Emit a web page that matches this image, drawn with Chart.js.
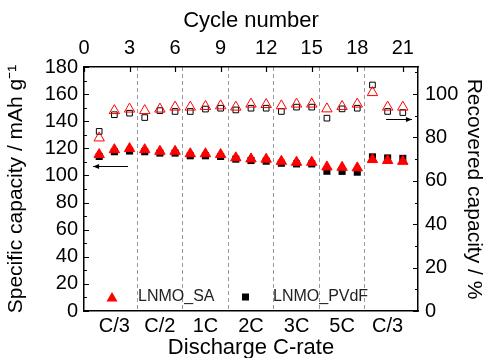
<!DOCTYPE html>
<html>
<head>
<meta charset="utf-8">
<script src="https://cdn.jsdelivr.net/npm/chart.js@4.4.1/dist/chart.umd.min.js"></script>
<style>
  body { margin: 0; background: #fff; }
  canvas { display: block; }
</style>
</head>
<body>
<canvas id="myChart" width="488" height="358"></canvas>
<script>
// Data
// =======================================================
var cycles = [1, 2, 3, 4, 5, 6, 7, 8, 9, 10, 11, 12, 13, 14, 15, 16, 17, 18, 19, 20, 21];

var saCapacity = [115.4, 119, 119.8, 119, 117.8, 117.8, 116, 116, 115.4, 113, 112.2, 112, 110.4, 109.7, 109.7, 106.3, 106, 105.6, 111.7, 111, 110.4];
var pvdfCapacity = [114, 117.5, 118, 117.5, 116.5, 116.5, 114.5, 114.5, 114, 112, 111, 110.5, 109, 108.5, 108.5, 103.1, 103, 102.4, 113.7, 112.9, 112.6];

var saRecovered = [79.8, 92.4, 93.1, 92.4, 93.1, 94, 94, 94.3, 94.6, 94, 95.4, 95.2, 94.6, 95.4, 95.4, 93.2, 94.3, 95.4, 100.7, 94, 94];
var pvdfRecovered = [82.8, 90.5, 91.2, 89.2, 92.4, 92, 92, 93.1, 93.5, 92.7, 93.5, 93.5, 92, 94, 94, 88.9, 93.2, 93.5, 104.2, 92, 91.5];

var rateLabels = ["C/3", "C/2", "1C", "2C", "3C", "5C", "C/3"];
var ratePositions = [2, 5, 8, 11, 14, 17, 20];
var rateSeparators = [3.5, 6.5, 9.5, 12.5, 15.5, 18.5];
var cycleTicks = [0, 3, 6, 9, 12, 15, 18, 21];
var capacityTicks = [0, 20, 40, 60, 80, 100, 120, 140, 160, 180];
var recoveredTicks = [0, 20, 40, 60, 80, 100];

// arrows: [fromCycle, toCycle, value]
var leftArrow = [2.9, 0.6, 107];
var rightArrow = [19.9, 21.6, 88.5];

function points(ys) {
    return cycles.map(function (c, i) { return { x: c, y: ys[i] }; });
}

var FONT = "'Liberation Sans', Arial, sans-serif";

// Inward tick marks, legend and arrows
// =======================================================
var extras = {
    id: "extras",
    afterDatasetsDraw: function (chart) {
        var ctx = chart.ctx;
        var area = chart.chartArea;
        var sy = chart.scales.y, sy2 = chart.scales.y2, st = chart.scales.xTop;
        ctx.save();
        ctx.strokeStyle = "#000";
        ctx.lineWidth = 1.2;
        ctx.beginPath();
        for (var v = 0; v <= 180; v += 10) {
            var p = Math.round(sy.getPixelForValue(v)) + 0.5;
            var len = v % 20 === 0 ? 5 : 3;
            ctx.moveTo(area.left, p); ctx.lineTo(area.left + len, p);
        }
        for (var w = 0; w <= 110; w += 10) {
            var q = Math.round(sy2.getPixelForValue(w)) + 0.5;
            var len2 = w % 20 === 0 ? 5 : 3;
            ctx.moveTo(area.right, q); ctx.lineTo(area.right - len2, q);
        }
        cycleTicks.forEach(function (c) {
            var x = Math.round(st.getPixelForValue(c)) + 0.5;
            ctx.moveTo(x, area.top); ctx.lineTo(x, area.top + 5);
        });
        ctx.stroke();

        // arrows
        function arrow(a, scaleY) {
            var x1 = st.getPixelForValue(a[0]);
            var x2 = st.getPixelForValue(a[1]);
            var y = Math.round(scaleY.getPixelForValue(a[2])) + 0.5;
            var dir = x2 > x1 ? 1 : -1;
            ctx.lineWidth = 1;
            ctx.beginPath();
            ctx.moveTo(x1, y); ctx.lineTo(x2, y);
            ctx.stroke();
            ctx.beginPath();
            ctx.moveTo(x2, y);
            ctx.lineTo(x2 - dir * 6, y - 2.5);
            ctx.lineTo(x2 - dir * 6, y + 2.5);
            ctx.closePath();
            ctx.fillStyle = "#000";
            ctx.fill();
        }
        arrow(leftArrow, sy);
        arrow(rightArrow, sy2);

        // legend inside the plot
        var ly = area.bottom - 14;
        ctx.fillStyle = "#ff0000";
        ctx.beginPath();
        var tx = area.left + 28;
        ctx.moveTo(tx, ly - 5); ctx.lineTo(tx + 5.5, ly + 4.5); ctx.lineTo(tx - 5.5, ly + 4.5);
        ctx.closePath();
        ctx.fill();
        ctx.fillStyle = "#000";
        ctx.fillRect(area.left + 158, ly - 3.5, 7, 7);
        ctx.font = "16px " + FONT;
        ctx.textBaseline = "middle";
        ctx.fillStyle = "#222";
        ctx.fillText(chart.data.datasets[0].label, area.left + 54, ly);
        ctx.fillText(chart.data.datasets[1].label, area.left + 189, ly);
        ctx.restore();
    }
};

var ctx = document.getElementById("myChart");

var myChart = new Chart(ctx, {
    type: "scatter",
    data: {
        datasets: [{
            label: "LNMO_SA",
            data: points(saCapacity),
            xAxisID: "xTop",
            yAxisID: "y",
            pointStyle: "triangle",
            pointRadius: 6,
            backgroundColor: "#ff0000",
            borderColor: "#ff0000",
            borderWidth: 1,
            order: 1
        }, {
            label: "LNMO_PVdF",
            data: points(pvdfCapacity),
            xAxisID: "xTop",
            yAxisID: "y",
            pointStyle: "rect",
            pointRadius: 5,
            backgroundColor: "#000",
            borderColor: "#000",
            borderWidth: 0,
            order: 2
        }, {
            label: "LNMO_SA recovered",
            data: points(saRecovered),
            xAxisID: "xTop",
            yAxisID: "y2",
            pointStyle: "triangle",
            pointRadius: 6,
            backgroundColor: "rgba(255,255,255,0)",
            borderColor: "#ff0000",
            borderWidth: 1,
            order: 3
        }, {
            label: "LNMO_PVdF recovered",
            data: points(pvdfRecovered),
            xAxisID: "xTop",
            yAxisID: "y2",
            pointStyle: "rect",
            pointRadius: 4,
            backgroundColor: "rgba(255,255,255,0)",
            borderColor: "#000",
            borderWidth: 1,
            order: 4
        }]
    },
    options: {
        responsive: false,
        animation: false,
        layout: { padding: 0 },
        plugins: {
            legend: { display: false },
            tooltip: { enabled: false }
        },
        scales: {
            x: {
                type: "linear",
                position: "bottom",
                min: 0,
                max: 22,
                afterBuildTicks: function (s) { s.ticks = ratePositions.map(function (v) { return { value: v }; }); },
                afterFit: function (s) { s.height = 47; },
                ticks: {
                    autoSkip: false,
                    maxRotation: 0,
                    padding: 3,
                    color: "#000",
                    font: { family: FONT, size: 20 }
                    ,
                    callback: function (v) { return rateLabels[ratePositions.indexOf(v)]; }
                },
                grid: { display: false, drawTicks: false },
                border: { color: "#000", width: 1.5 },
                title: {
                    display: true,
                    text: "Discharge C-rate",
                    color: "#000",
                    padding: { top: 0, bottom: -3 },
                    font: { family: FONT, size: 22 }
                }
            },
            xg: {
                type: "linear",
                position: "bottom",
                min: 0,
                max: 22,
                afterBuildTicks: function (s) { s.ticks = rateSeparators.map(function (v) { return { value: v }; }); },
                afterFit: function (s) { s.height = 0; },
                ticks: { display: false },
                grid: { drawTicks: false, color: "#999", lineWidth: 1 },
                border: { display: false, dash: [4, 3] }
            },
            xTop: {
                type: "linear",
                position: "top",
                min: 0,
                max: 22,
                afterBuildTicks: function (s) { s.ticks = cycleTicks.map(function (v) { return { value: v }; }); },
                afterFit: function (s) { s.height = 67; },
                ticks: {
                    autoSkip: false,
                    maxRotation: 0,
                    padding: 7,
                    color: "#000",
                    font: { family: FONT, size: 20 }
                },
                grid: { display: false, drawTicks: false },
                border: { color: "#000", width: 1.5 },
                title: {
                    display: true,
                    text: "Cycle number",
                    color: "#000",
                    padding: { top: 8, bottom: 0 },
                    font: { family: FONT, size: 22 }
                }
            },
            y: {
                position: "left",
                min: 0,
                max: 180,
                afterBuildTicks: function (s) { s.ticks = capacityTicks.map(function (v) { return { value: v }; }); },
                afterFit: function (s) { s.width = 84; },
                ticks: {
                    padding: 6,
                    color: "#000",
                    font: { family: FONT, size: 20 }
                },
                grid: { display: false, drawTicks: false },
                border: { color: "#000", width: 1.5 },
                title: {
                    display: true,
                    text: "Specific capacity / mAh g\u207B\u00B9",
                    color: "#000",
                    padding: { top: 4, bottom: 0 },
                    font: { family: FONT, size: 21 }
                }
            },
            y2: {
                position: "right",
                min: 0,
                max: 112.5,
                afterBuildTicks: function (s) { s.ticks = recoveredTicks.map(function (v) { return { value: v }; }); },
                afterFit: function (s) { s.width = 70; },
                ticks: {
                    padding: 7,
                    color: "#000",
                    font: { family: FONT, size: 20 }
                },
                grid: { display: false, drawTicks: false },
                border: { color: "#000", width: 1.5 },
                title: {
                    display: true,
                    text: "Recovered capacity / %",
                    color: "#000",
                    padding: { top: 2, bottom: 0 },
                    font: { family: FONT, size: 21 }
                }
            }
        }
    },
    plugins: [extras]
});
</script>
</body>
</html>
